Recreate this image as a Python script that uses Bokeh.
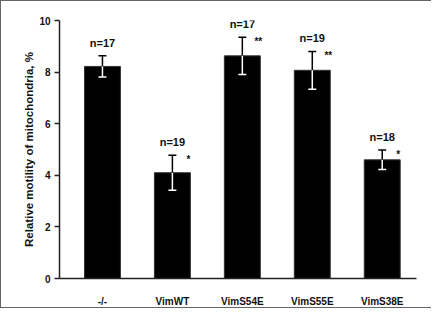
from bokeh.plotting import figure
from bokeh.models import ColumnDataSource, FixedTicker, Range1d
from bokeh.embed import file_html
from bokeh.resources import INLINE
from bokeh.core.properties import value

categories = ["-/-", "VimWT", "VimS54E", "VimS55E", "VimS38E"]
means = [8.22, 4.1, 8.63, 8.07, 4.6]
errors = [0.41, 0.68, 0.72, 0.73, 0.38]
n_labels = ["n=17", "n=19", "n=17", "n=19", "n=18"]
stars = ["", "*", "**", "**", "*"]
y_ticks = [0, 2, 4, 6, 8, 10]

x = list(range(len(categories)))
tops = [m + e for m, e in zip(means, errors)]
bots = [m - e for m, e in zip(means, errors)]

src = ColumnDataSource(dict(x=x, m=means, top=tops, bot=bots, n=n_labels, s=stars))

p = figure(width=431, height=308, output_backend="svg", toolbar_location=None,
           x_range=Range1d(-0.614, 4.49), y_range=Range1d(0, 10),
           min_border_left=58, min_border_right=16, min_border_top=19, min_border_bottom=28,
           styles={"border-left": "1px solid #666", "border-top": "1px solid #666",
                   "border-bottom": "1px solid #666"})
p.outline_line_color = None
p.xgrid.visible = False
p.ygrid.visible = False
p.background_fill_color = "white"
p.border_fill_color = "white"

p.vbar(x="x", top="m", bottom=0, width=0.514, source=src, fill_color="black", line_color="#333333", line_width=1)

# error bars: black above bar, white inside bar
p.segment(x0="x", y0="m", x1="x", y1="top", source=src, line_color="black", line_width=1.5)
p.segment(x0="x", y0="bot", x1="x", y1="m", source=src, line_color="white", line_width=1.5)
p.rect(x="x", y="top", width=8, height=1.5, width_units="screen", height_units="screen",
       source=src, fill_color="black", line_color=None)
p.rect(x="x", y="bot", width=8, height=1.5, width_units="screen", height_units="screen",
       source=src, fill_color="white", line_color=None)

p.text(x="x", y="top", text="n", source=src, text_align="center", text_baseline="bottom",
       y_offset=-7, text_font=value("Liberation Sans"), text_font_style="bold",
       text_font_size="11px", text_color="#111111")
p.text(x="x", y="top", text="s", source=src, text_align="center", text_baseline="top",
       x_offset=16, y_offset=-1, text_font=value("Liberation Sans"), text_font_style="bold",
       text_font_size="10px", text_color="#111111")

xa = p.xaxis[0]
xa.ticker = FixedTicker(ticks=x)
xa.major_label_overrides = {i: c for i, c in zip(x, categories)}
xa.major_tick_line_color = None
xa.minor_tick_line_color = None
xa.major_label_standoff = 11
xa.major_label_text_font = "Liberation Sans"
xa.major_label_text_font_style = "bold"
xa.major_label_text_font_size = "10px"
xa.major_label_text_color = "#111111"
xa.axis_line_width = 1.5
xa.axis_line_color = "#222222"

ya = p.yaxis[0]
ya.ticker = FixedTicker(ticks=y_ticks)
ya.major_tick_out = 5
ya.major_tick_in = 0
ya.minor_tick_line_color = None
ya.major_tick_line_width = 1.5
ya.major_tick_line_color = "#222222"
ya.axis_line_width = 1.5
ya.axis_line_color = "#222222"
ya.major_label_standoff = 4
ya.major_label_text_font = "Liberation Sans"
ya.major_label_text_font_style = "bold"
ya.major_label_text_font_size = "10px"
ya.major_label_text_color = "#111111"
ya.axis_label = "Relative motility of mitochondria, %"
ya.axis_label_text_font = "Liberation Sans"
ya.axis_label_text_font_style = "bold"
ya.axis_label_text_font_size = "11.5px"
ya.axis_label_text_color = "#111111"
ya.axis_label_standoff = 1

open("out.html", "w").write(file_html(p, INLINE))
